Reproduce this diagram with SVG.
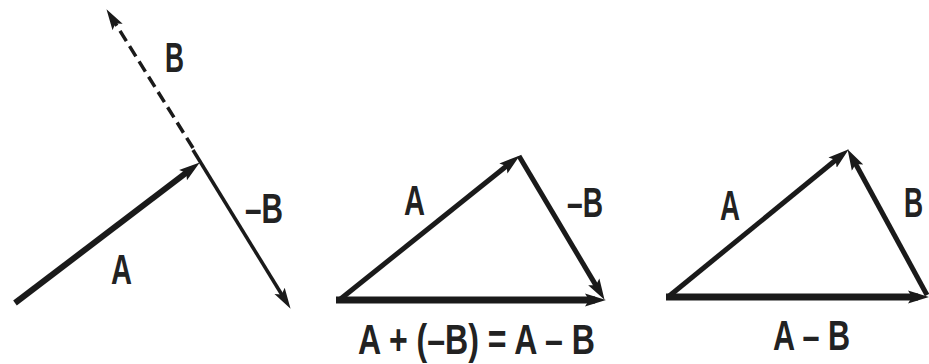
<svg xmlns="http://www.w3.org/2000/svg" width="929" height="364" viewBox="0 0 929 364">
<style>
.lbl{font-family:"Liberation Sans",Arial,sans-serif;font-size:42px;font-weight:bold;fill:#222222;}
.vec{stroke:#1a1a1a;fill:none;stroke-linecap:butt;}
</style>
<defs>
<marker id="ah" markerUnits="userSpaceOnUse" markerWidth="22" markerHeight="14" viewBox="0 0 22 14" refX="10" refY="7" orient="auto">
<path d="M0,0.5 L21,7 L0,13.5 L4,7 z" fill="#1a1a1a"/>
</marker>
<marker id="ahs" markerUnits="userSpaceOnUse" markerWidth="22" markerHeight="14" viewBox="0 0 22 14" refX="10" refY="7" orient="auto">
<path d="M0,1 L21,7 L0,13 L4,7 z" fill="#1a1a1a"/>
</marker>
</defs>
<rect width="929" height="364" fill="#ffffff"/>
<g id="connectors">
<line class="vec" x1="15" y1="303" x2="191" y2="169.1" stroke-width="6" marker-end="url(#ah)"/>
<line class="vec" x1="193" y1="148" x2="112.3" y2="18.5" stroke-width="3.5" stroke-dasharray="12,6" marker-end="url(#ahs)"/>
<line class="vec" x1="193" y1="150" x2="284.8" y2="299.5" stroke-width="3.5" marker-end="url(#ahs)"/>
<line class="vec" x1="338" y1="301" x2="511.2" y2="162.3" stroke-width="5" marker-end="url(#ah)"/>
<line class="vec" x1="519" y1="156" x2="598.9" y2="290.4" stroke-width="5" marker-end="url(#ah)"/>
<line class="vec" x1="336" y1="300" x2="595" y2="300" stroke-width="7" marker-end="url(#ah)"/>
<line class="vec" x1="668" y1="297" x2="840.3" y2="156.3" stroke-width="5" marker-end="url(#ah)"/>
<line class="vec" x1="927" y1="295" x2="852.8" y2="158.8" stroke-width="5" marker-end="url(#ah)"/>
<line class="vec" x1="666" y1="297" x2="918" y2="297" stroke-width="7" marker-end="url(#ah)"/>
</g>
<g id="label-B-dashed"><text class="lbl" x="165" y="72" textLength="19" lengthAdjust="spacingAndGlyphs">B</text></g>
<g id="label-negB-1"><text class="lbl" x="245" y="223" textLength="38" lengthAdjust="spacingAndGlyphs">–B</text></g>
<g id="label-A-1"><text class="lbl" x="111" y="284" textLength="21" lengthAdjust="spacingAndGlyphs">A</text></g>
<g id="label-A-2"><text class="lbl" x="404" y="215" textLength="21" lengthAdjust="spacingAndGlyphs">A</text></g>
<g id="label-negB-2"><text class="lbl" x="567" y="217" textLength="36" lengthAdjust="spacingAndGlyphs">–B</text></g>
<g id="label-sum"><text class="lbl" x="358" y="354" textLength="237" lengthAdjust="spacingAndGlyphs">A + (–B) = A – B</text></g>
<g id="label-A-3"><text class="lbl" x="720" y="220" textLength="20" lengthAdjust="spacingAndGlyphs">A</text></g>
<g id="label-B-3"><text class="lbl" transform="translate(904,217) scale(0.63,1)" x="0" y="0">B</text></g>
<g id="label-diff"><text class="lbl" x="773" y="350" textLength="77" lengthAdjust="spacingAndGlyphs">A – B</text></g>
</svg>
